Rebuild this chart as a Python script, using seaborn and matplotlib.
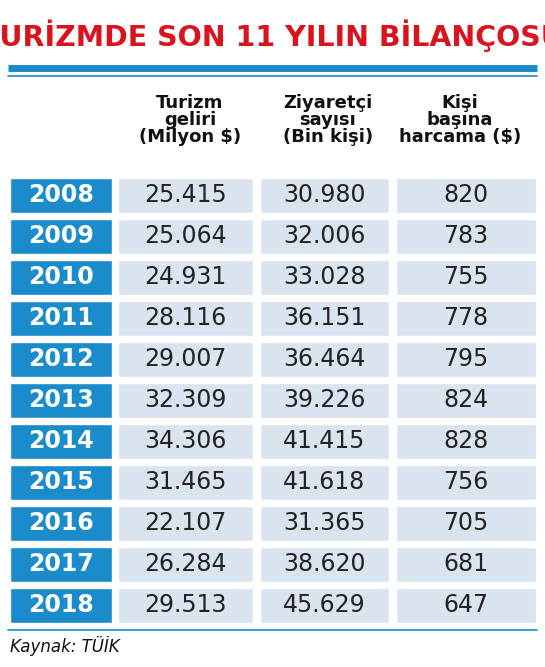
import matplotlib
matplotlib.use("Agg")
import matplotlib.pyplot as plt
import seaborn as sns

years = ["2008","2009","2010","2011","2012","2013","2014","2015","2016","2017","2018"]
gelir = ["25.415","25.064","24.931","28.116","29.007","32.309","34.306","31.465","22.107","26.284","29.513"]
ziyaretci = ["30.980","32.006","33.028","36.151","36.464","39.226","41.415","41.618","31.365","38.620","45.629"]
harcama = ["820","783","755","778","795","824","828","756","705","681","647"]
headers = ["Turizm\ngeliri\n(Milyon $)", "Ziyaretçi\nsayısı\n(Bin kişi)", "Kişi\nbaşına\nharcama ($)"]
title = "TURİZMDE SON 11 YILIN BİLANÇOSU"
source = "Kaynak: TÜİK"

sns.set_theme(style="white")
plt.rcParams['font.family'] = ['Liberation Sans Narrow', 'DejaVu Sans']

fig = plt.figure(figsize=(5.45, 6.67), dpi=100)
ax = fig.add_axes([0, 0, 1, 1])
ax.set_xlim(0, 545); ax.set_ylim(667, 0); ax.axis("off")

blue = "#1a8ccc"; cell = "#d9e4ee"; red = "#d9141e"
rows = [195 + 41 * i for i in range(len(years))]
cols = [(10, 102), (118, 135), (260, 129), (396, 140)]
centers = [l + w / 2 for l, w in cols]

ax.barh(rows, [cols[0][1]] * len(rows), left=cols[0][0], height=35, color=blue)
for (l, w) in cols[1:]:
    ax.barh(rows, [w] * len(rows), left=l, height=35, color=cell)

for y, yr, a, b, c in zip(rows, years, gelir, ziyaretci, harcama):
    ax.text(centers[0], y, yr, color="white", fontsize=17, fontweight="bold", ha="center", va="center")
    for x, v in zip(centers[1:], (a, b, c)):
        ax.text(x, y, v, color="#222222", fontsize=17, ha="center", va="center")

for x, h in zip([190, 328, 460], headers):
    ax.text(x, 120, h, fontsize=13, fontweight="bold", ha="center", va="center", linespacing=0.95, color="#111111")

ax.text(272, 36, title, color=red, fontsize=20.5, fontweight="bold", ha="center", va="center")
ax.plot([8, 537], [68, 68], color=blue, lw=5, solid_capstyle="butt")
ax.plot([8, 537], [76, 76], color=blue, lw=1.2)
ax.plot([8, 537], [630, 630], color=blue, lw=1.2)
ax.text(10, 646, source, fontsize=12, style="italic", ha="left", va="center", color="#111111")

fig.savefig("out.png", dpi=100)
